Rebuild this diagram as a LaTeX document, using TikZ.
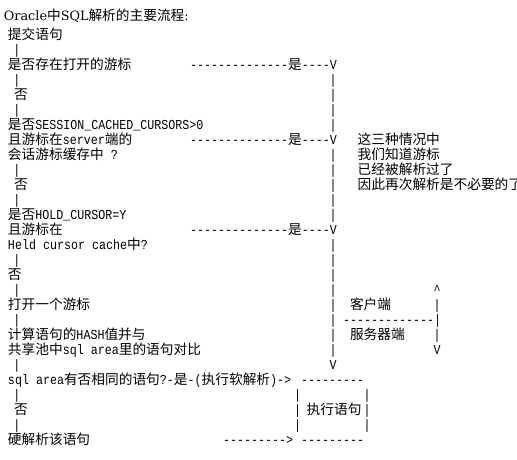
\documentclass[tikz,border=0pt]{standalone}
\usepackage{fontspec}
\newfontfamily\cjfont{Noto Sans CJK SC}
\newfontfamily\mofont[FakeStretch=0.852,Ligatures=TeXOff]{Liberation Mono}
\newfontfamily\tsfont{DejaVu Serif}
\newcommand\cj[1]{{\fontsize{13.7}{15}\selectfont\cjfont #1}}
\newcommand\putT[4]{\node[tx] (#1) at (#2,{24+15*#3}) {#4};}
\newcommand\putC[4]{\node[tc] (#1) at (#2,{24+15*#3}) {#4};}
\newcommand\putV[3]{\node[tc] (#1) at (#2,{24+15*#3}) {|};}
\begin{document}
\begin{tikzpicture}[x=1pt,y=-1pt,
  tx/.style={inner sep=0pt,outer sep=0pt,anchor=base west,text=black,
    font=\fontsize{13.7}{15}\selectfont\mofont},
  tc/.style={tx,anchor=base}]
\useasboundingbox (0,0) rectangle (517,459);
\fill[white] (0,0) rectangle (517,459);
\clip (0,0) rectangle (517,459);
\node[tx,font=\fontsize{12.8}{15}\selectfont\tsfont] (title) at (4,20)
  {Oracle\cj{中}SQL\cj{解析的主要流程}:};
\putT{r1}{8}{1}{\cj{提交语句}}
\putV{r2}{17}{2}
\putT{r3a}{8}{3}{\cj{是否存在打开的游标}}
\putT{r3b}{190}{3}{--------------\cj{是}----V}
\putV{r4a}{17}{4} \putV{r4b}{333}{4}
\putT{r5a}{14}{5}{\cj{否}} \putV{r5b}{333}{5}
\putV{r6a}{17}{6} \putV{r6b}{333}{6}
\putT{r7a}{8}{7}{\cj{是否}SESSION\_CACHED\_CURSORS>0} \putV{r7b}{333}{7}
\putT{r8a}{8}{8}{\cj{且游标在}server\cj{端的}}
\putT{r8b}{190}{8}{--------------\cj{是}----V}
\putT{r8c}{357.7}{8}{\cj{这三种情况中}}
\putT{r9a}{8}{9}{\cj{会话游标缓存中} ?} \putV{r9b}{333}{9}
\putT{r9c}{357.7}{9}{\cj{我们知道游标}}
\putV{r10a}{17}{10} \putV{r10b}{333}{10}
\putT{r10c}{357.7}{10}{\cj{已经被解析过了}}
\putT{r11a}{14}{11}{\cj{否}} \putV{r11b}{333}{11}
\putT{r11c}{357.7}{11}{\cj{因此再次解析是不必要的了}}
\putV{r12a}{17}{12} \putV{r12b}{333}{12}
\putT{r13a}{8}{13}{\cj{是否}HOLD\_CURSOR=Y} \putV{r13b}{333}{13}
\putT{r14a}{8}{14}{\cj{且游标在}}
\putT{r14b}{190}{14}{--------------\cj{是}----V}
\putT{r15a}{8}{15}{Held cursor cache\cj{中}?} \putV{r15b}{333}{15}
\putV{r16a}{17}{16} \putV{r16b}{333}{16}
\putT{r17a}{8}{17}{\cj{否}} \putV{r17b}{333}{17}
\putV{r18a}{17}{18} \putV{r18b}{333}{18} \putC{r18c}{437}{18}{\textasciicircum}
\putT{r19a}{8}{19}{\cj{打开一个游标}} \putV{r19b}{333}{19}
\putT{r19c}{350}{19}{\cj{客户端}} \putV{r19d}{437}{19}
\putV{r20a}{17}{20} \putV{r20b}{333}{20} \putT{r20c}{343}{20}{-------------|}
\putT{r21a}{8}{21}{\cj{计算语句的}HASH\cj{值并与}} \putV{r21b}{333}{21}
\putT{r21c}{350}{21}{\cj{服务器端}} \putV{r21d}{437}{21}
\putT{r22a}{8}{22}{\cj{共享池中}sql area\cj{里的语句对比}} \putV{r22b}{333}{22}
\putC{r22c}{437}{22}{V}
\putV{r23a}{17}{23} \putC{r23b}{333}{23}{V}
\putT{r24a}{8}{24}{sql area\cj{有否相同的语句}?-\cj{是}-(\cj{执行软解析})->}
\putT{r24b}{301}{24}{---------}
\putV{r25a}{17}{25} \putV{r25b}{297.7}{25} \putV{r25c}{367}{25}
\putT{r26a}{14}{26}{\cj{否}} \putV{r26b}{297.7}{26}
\putT{r26c}{306.7}{26}{\cj{执行语句}} \putV{r26d}{367}{26}
\putV{r27a}{17}{27} \putV{r27b}{297.7}{27} \putV{r27c}{367}{27}
\putT{r28a}{8}{28}{\cj{硬解析该语句}} \putT{r28b}{223}{28}{--------->}
\putT{r28c}{301}{28}{---------}
\end{tikzpicture}
\end{document}
